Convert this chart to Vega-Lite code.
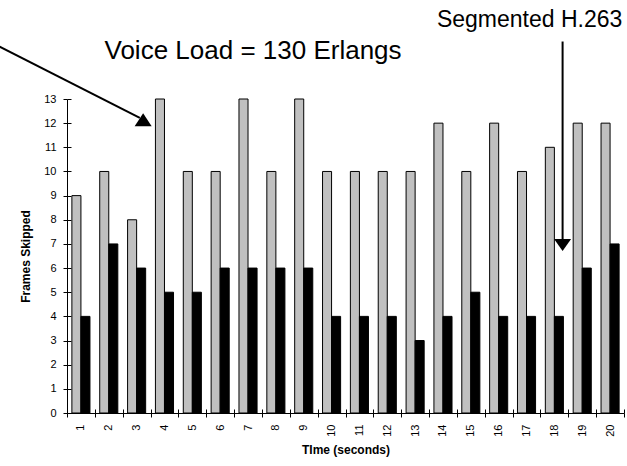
{
  "$schema": "https://vega.github.io/schema/vega-lite/v6.json",
  "width": 557,
  "height": 314,
  "autosize": "none",
  "padding": {"left": 67, "top": 99, "right": 3, "bottom": 53},
  "background": "white",
  "config": {
    "view": {"stroke": null},
    "font": "Liberation Sans",
    "axis": {
      "grid": false,
      "domainColor": "black",
      "domainWidth": 1,
      "tickColor": "black",
      "tickWidth": 1,
      "labelColor": "black",
      "titleColor": "black",
      "labelFont": "Liberation Sans",
      "titleFont": "Liberation Sans"
    }
  },
  "layer": [
    {
      "data": {
        "values": [
          {"time": 1, "series": "Series 1", "frames": 9}, {"time": 1, "series": "Series 2", "frames": 4},
          {"time": 2, "series": "Series 1", "frames": 10}, {"time": 2, "series": "Series 2", "frames": 7},
          {"time": 3, "series": "Series 1", "frames": 8}, {"time": 3, "series": "Series 2", "frames": 6},
          {"time": 4, "series": "Series 1", "frames": 13}, {"time": 4, "series": "Series 2", "frames": 5},
          {"time": 5, "series": "Series 1", "frames": 10}, {"time": 5, "series": "Series 2", "frames": 5},
          {"time": 6, "series": "Series 1", "frames": 10}, {"time": 6, "series": "Series 2", "frames": 6},
          {"time": 7, "series": "Series 1", "frames": 13}, {"time": 7, "series": "Series 2", "frames": 6},
          {"time": 8, "series": "Series 1", "frames": 10}, {"time": 8, "series": "Series 2", "frames": 6},
          {"time": 9, "series": "Series 1", "frames": 13}, {"time": 9, "series": "Series 2", "frames": 6},
          {"time": 10, "series": "Series 1", "frames": 10}, {"time": 10, "series": "Series 2", "frames": 4},
          {"time": 11, "series": "Series 1", "frames": 10}, {"time": 11, "series": "Series 2", "frames": 4},
          {"time": 12, "series": "Series 1", "frames": 10}, {"time": 12, "series": "Series 2", "frames": 4},
          {"time": 13, "series": "Series 1", "frames": 10}, {"time": 13, "series": "Series 2", "frames": 3},
          {"time": 14, "series": "Series 1", "frames": 12}, {"time": 14, "series": "Series 2", "frames": 4},
          {"time": 15, "series": "Series 1", "frames": 10}, {"time": 15, "series": "Series 2", "frames": 5},
          {"time": 16, "series": "Series 1", "frames": 12}, {"time": 16, "series": "Series 2", "frames": 4},
          {"time": 17, "series": "Series 1", "frames": 10}, {"time": 17, "series": "Series 2", "frames": 4},
          {"time": 18, "series": "Series 1", "frames": 11}, {"time": 18, "series": "Series 2", "frames": 4},
          {"time": 19, "series": "Series 1", "frames": 12}, {"time": 19, "series": "Series 2", "frames": 6},
          {"time": 20, "series": "Series 1", "frames": 12}, {"time": 20, "series": "Series 2", "frames": 7}
        ]
      },
      "layer": [
        {
          "mark": {"type": "bar", "stroke": "black", "strokeWidth": 1},
          "encoding": {
            "x": {
              "field": "time", "type": "ordinal",
              "scale": {"paddingInner": 0, "paddingOuter": 0},
              "axis": {
                "orient": "bottom",
                "title": "TIme (seconds)",
                "titleFontWeight": "bold",
                "titleFontSize": 12,
                "titlePadding": 8,
                "labelAngle": -90,
                "labelAlign": "right",
                "labelBaseline": "middle",
                "labelFontSize": 11,
                "labelPadding": 7,
                "tickBand": "extent",
                "tickSize": 4
              }
            },
            "xOffset": {
              "field": "series", "type": "nominal",
              "scale": {"paddingInner": 0, "paddingOuter": 0.54}
            },
            "y": {
              "field": "frames", "type": "quantitative",
              "scale": {"domain": [0, 13], "nice": false},
              "axis": {
                "orient": "left",
                "values": [0,1,2,3,4,5,6,7,8,9,10,11,12,13],
                "title": "Frames Skipped",
                "titleFontWeight": "bold",
                "titleFontSize": 12,
                "titlePadding": 11,
                "labelFontSize": 11,
                "labelPadding": 7,
                "tickSize": 4
              }
            },
            "color": {
              "field": "series", "type": "nominal",
              "scale": {"domain": ["Series 1", "Series 2"], "range": ["#c0c0c0", "#000000"]},
              "legend": null
            }
          }
        },
        {
          "mark": {"type": "bar", "opacity": 0},
          "encoding": {
            "x": {
              "field": "time", "type": "ordinal",
              "axis": {
                "orient": "bottom", "offset": -4, "tickBand": "extent", "tickSize": 4,
                "labels": false, "domain": false, "title": null
              }
            },
            "y": {
              "field": "frames", "type": "quantitative",
              "axis": {
                "orient": "left", "offset": -4, "tickSize": 4,
                "values": [0,1,2,3,4,5,6,7,8,9,10,11,12,13],
                "labels": false, "domain": false, "title": null
              }
            }
          }
        }
      ],
      "resolve": {"axis": {"x": "independent", "y": "independent"}}
    },
    {
      "data": {
        "values": [
          {"label": "Voice Load = 130 Erlangs", "px": 6.68, "py": 14.66, "size": 26},
          {"label": "Segmented H.263", "px": 16.61, "py": 15.99, "size": 23}
        ]
      },
      "layer": [
        {
          "mark": {"type": "text", "align": "center", "baseline": "alphabetic", "font": "Liberation Sans", "color": "black"},
          "encoding": {
            "x": {"field": "px", "type": "quantitative", "scale": {"domain": [0, 20], "nice": false, "zero": false}, "axis": null},
            "y": {"field": "py", "type": "quantitative", "scale": {"domain": [0, 13], "nice": false, "zero": false}, "axis": null},
            "text": {"field": "label"},
            "size": {"field": "size", "type": "quantitative", "scale": null, "legend": null}
          }
        },
        {
          "data": {
            "values": [
              {"x1": -2.42, "y1": 15.17, "x2": 2.615, "y2": 12.22},
              {"x1": 17.795, "y1": 15.38, "x2": 17.795, "y2": 7.16}
            ]
          },
          "mark": {"type": "rule", "color": "black", "strokeWidth": 2},
          "encoding": {
            "x": {"field": "x1", "type": "quantitative"},
            "y": {"field": "y1", "type": "quantitative"},
            "x2": {"field": "x2"},
            "y2": {"field": "y2"}
          }
        },
        {
          "data": {"values": [{"x": 2.734, "y": 12.14}]},
          "mark": {"type": "point", "filled": true, "color": "black", "opacity": 1, "size": 289, "shape": "M-1,0.76L0,-0.76L1,0.76Z"},
          "encoding": {
            "x": {"field": "x", "type": "quantitative"},
            "y": {"field": "y", "type": "quantitative"}
          }
        },
        {
          "data": {"values": [{"x": 17.795, "y": 6.956}]},
          "mark": {"type": "point", "filled": true, "color": "black", "opacity": 1, "size": 289, "shape": "M-1,-0.7L0,0.7L1,-0.7Z"},
          "encoding": {
            "x": {"field": "x", "type": "quantitative"},
            "y": {"field": "y", "type": "quantitative"}
          }
        }
      ]
    }
  ],
  "resolve": {"scale": {"x": "independent", "y": "independent"}, "axis": {"x": "independent", "y": "independent"}}
}
